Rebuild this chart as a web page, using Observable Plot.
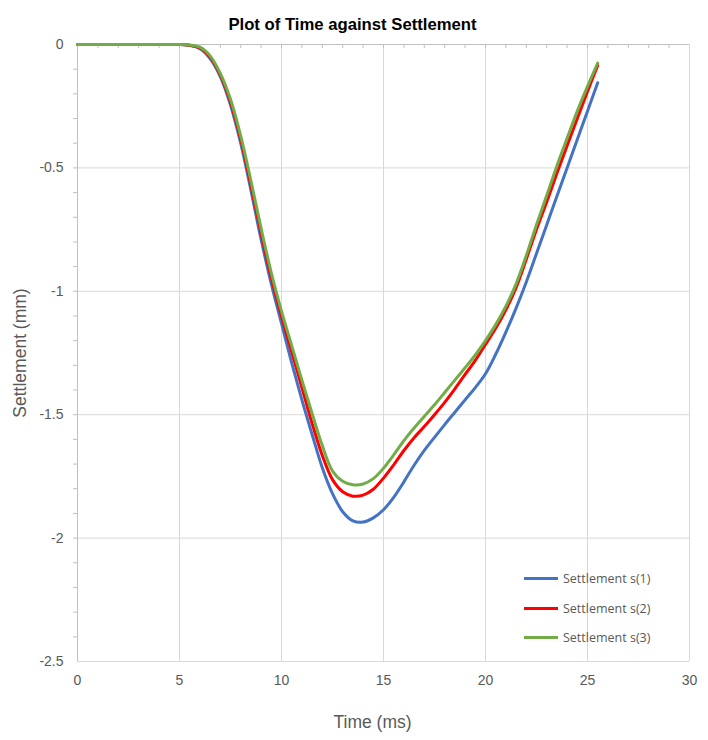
<!DOCTYPE html>
<html>
<head>
<meta charset="utf-8">
<script src="https://cdn.jsdelivr.net/npm/d3@7"></script>
<script src="https://cdn.jsdelivr.net/npm/@observablehq/plot@0.6"></script>
<style>
  html, body { margin: 0; padding: 0; background: #fff; }
  #chart { position: relative; width: 708px; height: 740px; }
  #legend { position: absolute; left: 524px; top: 564px; font-family: "Open Sans", sans-serif; font-size: 12.5px; color: #595959; }
  #legend .row { display: flex; align-items: center; height: 29.5px; }
  #legend .sw { width: 34px; height: 3px; margin-right: 5px; }
</style>
</head>
<body>
<div id="chart"></div>
<script>
// Time (ms)
const time = [0, 1, 2, 3, 4, 5, 5.5, 6, 6.5, 7, 7.5, 8, 8.5, 9, 9.5, 10, 10.5, 11, 11.5, 12, 12.5, 13, 13.5, 14, 14.5, 15, 15.5, 16, 16.5, 17, 17.5, 18, 18.5, 19, 19.5, 20, 20.5, 21, 21.5, 22, 22.5, 23, 23.5, 24, 24.5, 25, 25.5];

// Settlement series (mm)
const s1 = [0, 0, 0, 0, 0, 0, -0.004, -0.017, -0.057, -0.13, -0.245, -0.4, -0.59, -0.79, -0.97, -1.13, -1.29, -1.44, -1.58, -1.715, -1.82, -1.893, -1.93, -1.935, -1.918, -1.885, -1.835, -1.772, -1.705, -1.645, -1.592, -1.54, -1.49, -1.44, -1.39, -1.334, -1.255, -1.165, -1.068, -0.962, -0.847, -0.731, -0.615, -0.5, -0.385, -0.27, -0.155];
const s2 = [0, 0, 0, 0, 0, 0, -0.003, -0.014, -0.051, -0.123, -0.233, -0.383, -0.57, -0.765, -0.945, -1.1, -1.245, -1.39, -1.535, -1.665, -1.763, -1.812, -1.83, -1.826, -1.802, -1.757, -1.703, -1.645, -1.593, -1.548, -1.5, -1.45, -1.395, -1.337, -1.28, -1.215, -1.15, -1.075, -0.985, -0.87, -0.75, -0.638, -0.522, -0.41, -0.3, -0.19, -0.085];
const s3 = [0, 0, 0, 0, 0, 0, -0.002, -0.011, -0.046, -0.117, -0.222, -0.37, -0.552, -0.745, -0.925, -1.08, -1.22, -1.36, -1.495, -1.625, -1.728, -1.77, -1.784, -1.781, -1.759, -1.717, -1.663, -1.605, -1.554, -1.507, -1.46, -1.41, -1.36, -1.31, -1.258, -1.2, -1.135, -1.06, -0.97, -0.855, -0.73, -0.612, -0.492, -0.38, -0.27, -0.17, -0.075];

const seriesNames = ["Settlement s(1)", "Settlement s(2)", "Settlement s(3)"];
const seriesColors = ["#4472C4", "#FF0000", "#70AD47"];

// Axis ticks
const xTicks = [0, 5, 10, 15, 20, 25, 30];
const yTicks = [0, -0.5, -1, -1.5, -2, -2.5];
const xMinor = d3.range(1, 30);
const yMinor = d3.range(1, 25).map(i => -i / 10);

const rows = [];
[s1, s2, s3].forEach((s, k) => {
  time.forEach((t, i) => rows.push({ time: t, settlement: s[i], series: seriesNames[k] }));
});

const font = "'Liberation Sans', Arial, sans-serif";
const axisGray = "#BFBFBF";
const gridGray = "#D9D9D9";
const textGray = "#595959";

const chart = Plot.plot({
  width: 708,
  height: 740,
  marginLeft: 77,
  marginRight: 19,
  marginTop: 44,
  marginBottom: 79,
  style: { fontFamily: font, background: "#fff" },
  x: { domain: [0, 30] },
  y: { domain: [-2.5, 0] },
  color: { domain: seriesNames, range: seriesColors },
  marks: [
    Plot.gridX(xTicks.slice(1), { stroke: gridGray, strokeOpacity: 1 }),
    Plot.gridY(yTicks.slice(1), { stroke: gridGray, strokeOpacity: 1 }),
    // horizontal axis line crosses at 0 (top of frame) with inward minor ticks
    Plot.ruleY([0], { stroke: axisGray }),
    Plot.ruleX(xMinor, { y1: 0, y2: 0, insetBottom: -4, stroke: axisGray }),
    // vertical axis line with outward minor ticks
    Plot.ruleX([0], { stroke: axisGray }),
    Plot.ruleY(yMinor, { x1: 0, x2: 0, insetLeft: -4, stroke: axisGray }),
    Plot.axisX({ ticks: xTicks, tickSize: 0, tickPadding: 14, fontSize: 14, color: textGray, label: null, tickFormat: d => String(d) }),
    Plot.axisY({ ticks: yTicks, tickSize: 0, tickPadding: 14, fontSize: 14, color: textGray, label: null, tickFormat: d => String(d) }),
    Plot.line(rows, {
      x: "time", y: "settlement", z: "series", stroke: "series",
      strokeWidth: 3, curve: "catmull-rom"
    }),
    Plot.text(["Plot of Time against Settlement"], {
      frameAnchor: "top", dy: -26, dx: -31, fontSize: 16.7, fontWeight: "bold", fill: "#000"
    }),
    Plot.text(["Time (ms)"], {
      frameAnchor: "bottom", dy: 66, dx: -11, fontSize: 17.5, fill: textGray
    }),
    Plot.text(["Settlement (mm)"], {
      frameAnchor: "left", textAnchor: "middle", dx: -57, rotate: -90, fontSize: 17.5, fill: textGray
    })
  ]
});

const root = document.getElementById("chart");
root.appendChild(chart);

// Legend drawn inside the plot area, lower right
const legend = document.createElement("div");
legend.id = "legend";
seriesNames.forEach((name, k) => {
  const row = document.createElement("div");
  row.className = "row";
  const sw = document.createElement("div");
  sw.className = "sw";
  sw.style.background = seriesColors[k];
  const label = document.createElement("span");
  label.textContent = name;
  row.appendChild(sw);
  row.appendChild(label);
  legend.appendChild(row);
});
root.appendChild(legend);
</script>
</body>
</html>
